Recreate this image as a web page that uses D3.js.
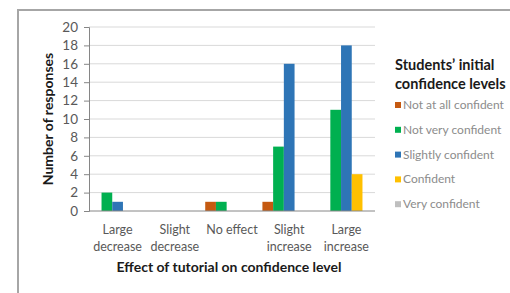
<!DOCTYPE html>
<html>
<head>
<meta charset="utf-8">
<script src="https://cdn.jsdelivr.net/npm/d3@7"></script>
<style>
  body { margin: 0; background: #fff; }
  svg { font-family: Lato, "Open Sans", sans-serif; }
</style>
</head>
<body>
<svg id="chart" width="510" height="293"></svg>
<script>
// data
const categories = [["Large", "decrease"], ["Slight", "decrease"], ["No effect"], ["Slight", "increase"], ["Large", "increase"]];
const seriesNames = ["Not at all confident", "Not very confident", "Slightly confident", "Confident", "Very confident"];
const seriesColors = ["#c55a11", "#00b050", "#2e75b6", "#ffc000", "#bfbfbf"];
const notAtAll = [0, 0, 1, 1, 0];
const notVery = [2, 0, 1, 7, 11];
const slightly = [1, 0, 0, 16, 18];
const confident = [0, 0, 0, 0, 4];
const veryConfident = [0, 0, 0, 0, 0];
const yTicks = [0, 2, 4, 6, 8, 10, 12, 14, 16, 18, 20];

const seriesValues = [notAtAll, notVery, slightly, confident, veryConfident];

const svg = d3.select('#chart');
const margin = {left: 89, right: 135, top: 27, bottom: 82};
const width = 510, height = 293;

// outer frame
svg.append('path')
    .attr('d', 'M18,' + height + 'V10H' + width)
    .attr('fill', 'none')
    .attr('stroke', '#a6a6a6')
    .attr('stroke-width', 2);

const x = d3.scaleBand()
    .domain(d3.range(categories.length))
    .range([margin.left, width - margin.right]);

const xInner = d3.scaleBand()
    .domain(d3.range(seriesNames.length))
    .range([0, x.bandwidth()])
    .paddingOuter(0.17);

const y = d3.scaleLinear()
    .domain([0, 20])
    .range([height - margin.bottom, margin.top]);

// gridlines
svg.append('g')
    .selectAll('line')
    .data(yTicks.filter(d => d > 0))
    .enter()
    .append('line')
    .attr('x1', margin.left)
    .attr('x2', width - margin.right)
    .attr('y1', d => y(d))
    .attr('y2', d => y(d))
    .attr('stroke', '#d9d9d9')
    .attr('stroke-width', 1);

// bars
const groups = svg.append('g')
    .selectAll('g')
    .data(seriesValues)
    .enter()
    .append('g')
    .attr('fill', (d, i) => seriesColors[i]);

groups.each(function (vals, si) {
    d3.select(this).selectAll('rect')
        .data(vals)
        .enter()
        .append('rect')
        .attr('x', (d, ci) => x(ci) + xInner(si))
        .attr('width', xInner.bandwidth())
        .attr('y', d => y(d))
        .attr('height', d => y(0) - y(d));
});

// y axis
const yAxis = svg.append('g')
    .attr('transform', 'translate(' + margin.left + ',0)')
    .call(d3.axisLeft(y).tickValues(yTicks).tickSize(5).tickPadding(6));
yAxis.select('.domain').attr('stroke', '#868686');
yAxis.selectAll('.tick line').attr('stroke', '#868686');
yAxis.selectAll('.tick text')
    .attr('fill', '#595959')
    .style('font-size', '13.5px')
    .style('font-family', 'Lato, sans-serif');

// x axis line
svg.append('line')
    .attr('x1', margin.left)
    .attr('x2', width - margin.right)
    .attr('y1', y(0))
    .attr('y2', y(0))
    .attr('stroke', '#868686')
    .attr('stroke-width', 1);

// category labels
const catLabels = svg.append('g')
    .selectAll('text')
    .data(categories)
    .enter()
    .append('text')
    .attr('text-anchor', 'middle')
    .attr('fill', '#595959')
    .style('font-size', '12.5px');
catLabels.each(function (lines, ci) {
    d3.select(this).selectAll('tspan')
        .data(lines)
        .enter()
        .append('tspan')
        .attr('x', x(ci) + x.bandwidth() / 2)
        .attr('y', (d, li) => 234 + li * 17)
        .text(d => d);
});

// axis titles
svg.append('text')
    .attr('x', 229)
    .attr('y', 272)
    .attr('text-anchor', 'middle')
    .attr('font-weight', 'bold')
    .attr('fill', '#1a1a1a')
    .style('font-size', '14px')
    .text('Effect of tutorial on confidence level');

svg.append('text')
    .attr('transform', 'translate(53,119) rotate(-90)')
    .attr('text-anchor', 'middle')
    .attr('font-weight', 'bold')
    .attr('fill', '#1a1a1a')
    .style('font-size', '14px')
    .text('Number of responses');

// legend
const legend = svg.append('g');
legend.append('text')
    .attr('font-weight', 'bold')
    .attr('fill', '#1a1a1a')
    .style('font-size', '14.5px')
    .selectAll('tspan')
    .data(["Students\u2019 initial", "confidence levels"])
    .enter()
    .append('tspan')
    .attr('x', 395)
    .attr('y', (d, i) => 70 + i * 19)
    .text(d => d);

const items = legend.selectAll('g.item')
    .data(seriesNames)
    .enter()
    .append('g')
    .attr('class', 'item')
    .attr('transform', (d, i) => 'translate(395,' + (105 + i * 24.8) + ')');
items.append('rect')
    .attr('x', 0)
    .attr('y', -3)
    .attr('width', 6)
    .attr('height', 6)
    .attr('fill', (d, i) => seriesColors[i]);
items.append('text')
    .attr('x', 8)
    .attr('y', 4)
    .attr('fill', '#8c8c8c')
    .style('font-size', '12px')
    .text(d => d);
</script>
</body>
</html>
